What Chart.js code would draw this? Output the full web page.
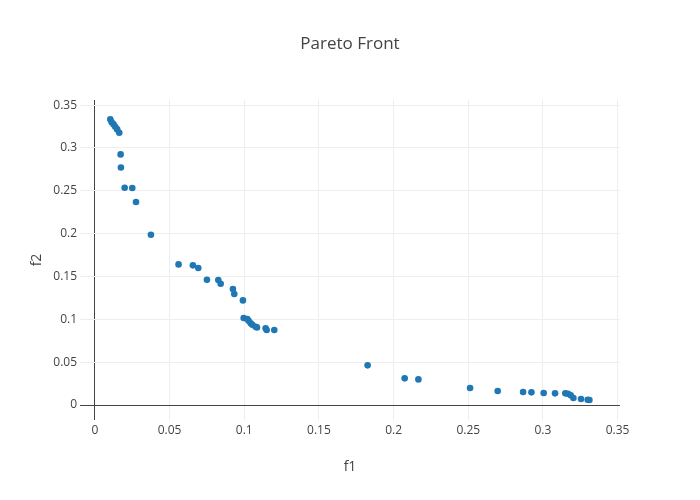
<!DOCTYPE html>
<html>
<head>
<meta charset="utf-8">
<script src="https://cdn.jsdelivr.net/npm/chart.js@4"></script>
<style>
  html, body { margin: 0; padding: 0; background: #fff; }
  #wrap { width: 700px; height: 500px; position: relative; }
</style>
</head>
<body>
<div id="wrap"><canvas id="paretoChart" width="700" height="500"></canvas></div>
<script>
const chartTitle = 'Pareto Front';
const xLabel = 'f1';
const yLabel = 'f2';

// objective values
const f1Values = [0.0103, 0.0112, 0.0125, 0.0136, 0.0149, 0.0163, 0.0172, 0.0174, 0.0199, 0.0250,
  0.0275, 0.0375, 0.0560, 0.0656, 0.0692, 0.0750, 0.0826, 0.0842, 0.0924, 0.0933,
  0.0991, 0.0996, 0.1020, 0.1029, 0.1043, 0.1054, 0.1076, 0.1085, 0.1143, 0.1150,
  0.1201, 0.1826, 0.2074, 0.2166, 0.2512, 0.2697, 0.2867, 0.2923, 0.3005, 0.3081,
  0.3150, 0.3168, 0.3186, 0.3204, 0.3255, 0.3300, 0.3311];
const f2Values = [0.3334, 0.3300, 0.3275, 0.3248, 0.3217, 0.3178, 0.2925, 0.2773, 0.2536, 0.2532,
  0.2369, 0.1987, 0.1641, 0.1630, 0.1599, 0.1462, 0.1459, 0.1416, 0.1354, 0.1295,
  0.1221, 0.1015, 0.1003, 0.0984, 0.0953, 0.0937, 0.0914, 0.0906, 0.0895, 0.0875,
  0.0875, 0.0463, 0.0311, 0.0299, 0.0198, 0.0163, 0.0152, 0.0148, 0.0140, 0.0136,
  0.0136, 0.0132, 0.0113, 0.0082, 0.0070, 0.0062, 0.0058];

const tickValues = [0, 0.05, 0.1, 0.15, 0.2, 0.25, 0.3, 0.35];

const points = f1Values.map((x, i) => ({x: x, y: f2Values[i]}));

const fontFamily = '"Open Sans", "DejaVu Sans", sans-serif';

function keepTicks(scale) {
    scale.ticks = tickValues.map(v => ({value: v}));
}

function gridColor(ctx) {
    return ctx.tick && Math.abs(ctx.tick.value) < 1e-9 ? '#444' : '#eee';
}

// title and axis titles placed like the original layout
const labelsPlugin = {
    id: 'labels',
    afterDraw(chart) {
        const c = chart.ctx;
        c.save();
        c.fillStyle = '#444';
        c.textAlign = 'center';
        c.textBaseline = 'middle';
        c.font = '17px ' + fontFamily;
        c.fillText(chartTitle, 350, 44);
        c.font = '14px ' + fontFamily;
        c.fillText(xLabel, 350, 467);
        c.translate(37, 260);
        c.rotate(-Math.PI / 2);
        c.fillText(yLabel, 0, 0);
        c.restore();
    }
};

const bgPlugin = {
    id: 'bg',
    beforeDraw(chart) {
        const c = chart.ctx;
        c.save();
        c.fillStyle = '#fff';
        c.fillRect(0, 0, chart.width, chart.height);
        c.restore();
    }
};

new Chart(document.getElementById('paretoChart').getContext('2d'), {
    type: 'scatter',
    data: {
        datasets: [{
            label: 'front',
            data: points,
            backgroundColor: '#1f77b4',
            borderWidth: 0,
            pointRadius: 3.3,
            pointHoverRadius: 3.3
        }]
    },
    options: {
        responsive: false,
        animation: false,
        layout: {padding: {left: 0, top: 100, right: 80, bottom: 0}},
        plugins: {
            legend: {display: false},
            title: {display: false},
            tooltip: {enabled: false}
        },
        scales: {
            x: {
                type: 'linear',
                min: -0.01,
                max: 0.3516,
                afterBuildTicks: keepTicks,
                afterFit(scale) { scale.height = 80; },
                border: {display: false},
                grid: {color: gridColor, lineWidth: 1, drawTicks: false},
                ticks: {
                    padding: 3,
                    color: '#444',
                    font: {family: fontFamily, size: 12},
                    maxRotation: 0,
                    callback: v => String(Math.round(v * 100) / 100)
                }
            },
            y: {
                type: 'linear',
                min: -0.0175,
                max: 0.356,
                afterBuildTicks: keepTicks,
                afterFit(scale) { scale.width = 80; },
                border: {display: false},
                grid: {color: gridColor, lineWidth: 1, drawTicks: false},
                ticks: {
                    padding: 3,
                    color: '#444',
                    font: {family: fontFamily, size: 12},
                    callback: v => String(Math.round(v * 100) / 100)
                }
            }
        }
    },
    plugins: [bgPlugin, labelsPlugin]
});
</script>
</body>
</html>
